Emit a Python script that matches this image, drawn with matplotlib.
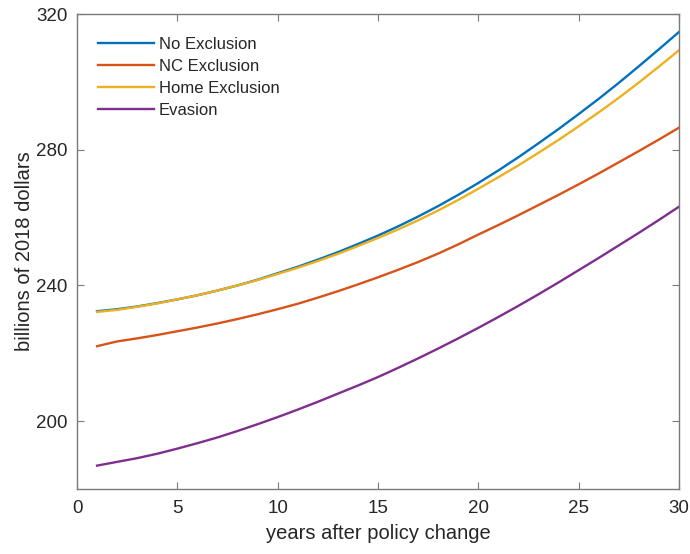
import matplotlib
matplotlib.use("Agg")
import matplotlib.pyplot as plt

years = list(range(1, 31))
no_exclusion = [232.4, 233.0, 233.8, 234.8, 235.9, 237.1, 238.5, 240.0, 241.7, 243.6,
                245.5, 247.6, 249.8, 252.2, 254.7, 257.4, 260.3, 263.4, 266.7, 270.2,
                273.9, 277.8, 281.9, 286.1, 290.5, 295.0, 299.7, 304.6, 309.6, 314.7]
nc_exclusion = [222.1, 223.5, 224.4, 225.4, 226.5, 227.6, 228.8, 230.1, 231.5, 233.0,
                234.6, 236.4, 238.3, 240.3, 242.4, 244.6, 246.9, 249.4, 252.1, 255.0,
                257.8, 260.7, 263.7, 266.7, 269.8, 273.0, 276.3, 279.6, 283.0, 286.5]
home_exclusion = [232.2, 232.8, 233.7, 234.7, 235.9, 237.1, 238.5, 240.0, 241.6, 243.4,
                  245.2, 247.2, 249.3, 251.6, 254.0, 256.5, 259.2, 262.1, 265.2, 268.5,
                  271.9, 275.4, 279.1, 282.9, 286.9, 291.0, 295.3, 299.8, 304.5, 309.3]
evasion = [186.9, 188.0, 189.1, 190.4, 191.9, 193.5, 195.2, 197.1, 199.1, 201.2,
           203.4, 205.7, 208.1, 210.5, 213.0, 215.7, 218.5, 221.4, 224.4, 227.5,
           230.7, 234.0, 237.4, 240.9, 244.5, 248.1, 251.8, 255.5, 259.3, 263.2]

series_labels = ["No Exclusion", "NC Exclusion", "Home Exclusion", "Evasion"]
colors = ["#0072BD", "#D95319", "#EDB120", "#7E2F8E"]
x_ticks = [0, 5, 10, 15, 20, 25, 30]
y_ticks = [200, 240, 280, 320]

plt.rcParams['font.family'] = ['Liberation Sans', 'DejaVu Sans']

fig = plt.figure(figsize=(6.9, 5.54), dpi=100)
ax = fig.add_axes([0.1116, 0.1173, 0.8724, 0.8574])

for vals, lab, col in zip([no_exclusion, nc_exclusion, home_exclusion, evasion], series_labels, colors):
    ax.plot(years, vals, color=col, lw=1.7, label=lab)

ax.set_xlim(0, 30)
ax.set_ylim(180, 320)
ax.set_xticks(x_ticks)
ax.set_yticks(y_ticks)

axis_col = "#7a7a7a"
for s in ax.spines.values():
    s.set_color(axis_col)
    s.set_linewidth(1.0)
ax.tick_params(direction='in', length=5, width=0.8, color=axis_col,
               labelsize=13.5, labelcolor='#262626', top=True, right=True)
ax.tick_params(axis='x', pad=8)
ax.tick_params(axis='y', pad=7)

ax.set_xlabel("years after policy change", fontsize=14.5, color='#262626', labelpad=5)
ax.set_ylabel("billions of 2018 dollars", fontsize=14.5, color='#262626', labelpad=1)

leg = ax.legend(loc='upper left', frameon=False, fontsize=12, handlelength=3.35,
                handletextpad=0.3, labelspacing=0.42, borderaxespad=0.0,
                bbox_to_anchor=(0.024, 0.966))
for t in leg.get_texts():
    t.set_color('#262626')

fig.savefig("out.png", dpi=100)
